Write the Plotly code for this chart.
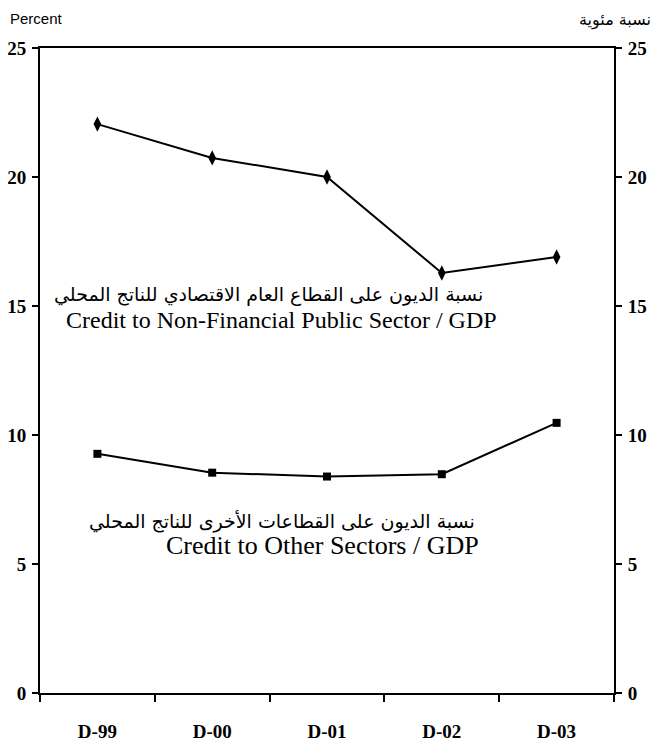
import plotly.graph_objects as go

# Data
periods = ['D-99', 'D-00', 'D-01', 'D-02', 'D-03']
public_sector = [22.05, 20.74, 20.0, 16.28, 16.9]
other_sectors = [9.27, 8.54, 8.39, 8.48, 10.47]
y_ticks = [0, 5, 10, 15, 20, 25]

tick_font = dict(family='Liberation Serif', size=19, color='black', weight='bold')
axis_style = dict(ticks='outside', ticklen=6, tickwidth=2, tickcolor='black',
                  showline=True, linecolor='black', linewidth=2,
                  showgrid=False, automargin=False, tickfont=tick_font)

fig = go.Figure()

# Credit to Non-Financial Public Sector / GDP
fig.add_trace(go.Scatter(
    x=periods, y=public_sector, mode='lines+markers',
    line=dict(color='black', width=2),
    marker=dict(symbol='diamond-tall', size=11, color='black'),
    showlegend=False
))

# Credit to Other Sectors / GDP
fig.add_trace(go.Scatter(
    x=periods, y=other_sectors, mode='lines+markers',
    line=dict(color='black', width=2),
    marker=dict(symbol='square', size=8, color='black'),
    showlegend=False
))

# invisible trace so the right axis is drawn
fig.add_trace(go.Scatter(x=periods, y=other_sectors, yaxis='y2',
                         mode='lines', line=dict(width=0), opacity=0,
                         showlegend=False, hoverinfo='skip'))

# page body has an 8px margin, so the figure is 8px smaller than the window
fig.update_layout(
    width=656, height=745,
    margin=dict(l=32, r=50, t=40, b=60),
    plot_bgcolor='white', paper_bgcolor='white',
    xaxis=dict(axis_style, type='category', range=[-0.5, 4.5],
               tickson='boundaries', ticklen=7, mirror=True,
               ticklabelstandoff=20),
    yaxis=dict(axis_style, range=[0, 25], tickvals=y_ticks, zeroline=False,
               ticklabelstandoff=2),
    yaxis2=dict(axis_style, range=[0, 25], tickvals=y_ticks, overlaying='y',
                side='right', zeroline=False, ticklabelstandoff=2),
    annotations=[
        dict(text='Percent', xref='paper', yref='paper', x=-0.055, y=1.03,
             xanchor='left', yanchor='bottom', showarrow=False,
             font=dict(family='Liberation Sans', size=15, color='black')),
        dict(text='نسبة مئوية', xref='paper', yref='paper', x=1.068, y=1.025,
             xanchor='right', yanchor='bottom', showarrow=False,
             font=dict(family='DejaVu Sans', size=16, color='black')),
        dict(text='نسبة الديون على القطاع العام الاقتصادي للناتج المحلي',
             xref='paper', yref='y', x=0.775, y=15.43, xanchor='right',
             yanchor='middle', showarrow=False,
             font=dict(family='DejaVu Sans', size=19, color='black')),
        dict(text='Credit to Non-Financial Public Sector / GDP',
             xref='paper', yref='y', x=0.8, y=14.47, xanchor='right',
             yanchor='middle', showarrow=False,
             font=dict(family='Liberation Serif', size=24, color='black')),
        dict(text='نسبة الديون على القطاعات الأخرى للناتج المحلي',
             xref='paper', yref='y', x=0.762, y=6.63, xanchor='right',
             yanchor='middle', showarrow=False,
             font=dict(family='DejaVu Sans', size=19, color='black')),
        dict(text='Credit to Other Sectors / GDP',
             xref='paper', yref='y', x=0.768, y=5.7, xanchor='right',
             yanchor='middle', showarrow=False,
             font=dict(family='Liberation Serif', size=26, color='black')),
    ]
)

fig.write_html('out.html')
